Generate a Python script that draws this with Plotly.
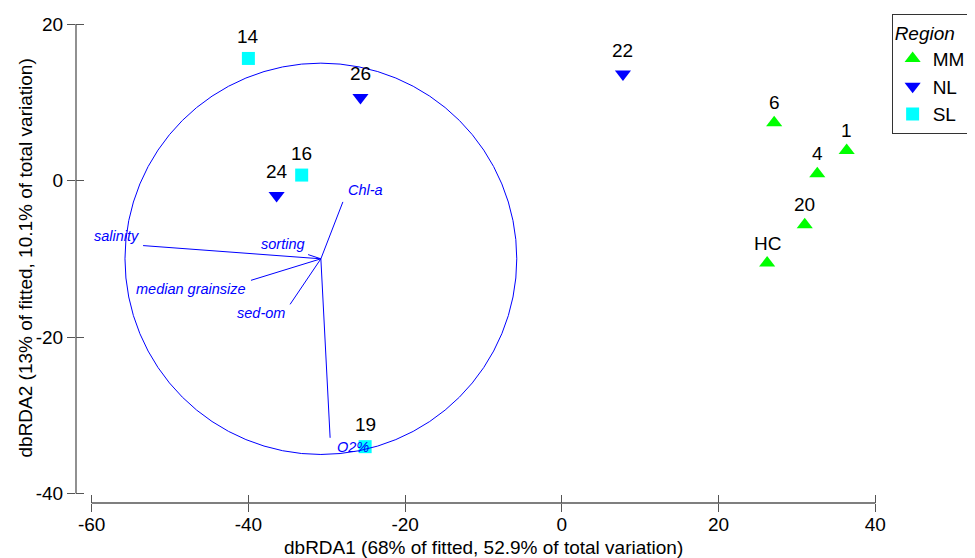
import plotly.graph_objects as go

# site scores on dbRDA1 / dbRDA2
site_labels = ["14", "26", "16", "24", "19", "22", "6", "1", "4", "20", "HC"]
site_region = ["SL", "NL", "SL", "NL", "SL", "NL", "MM", "MM", "MM", "MM", "MM"]
site_x = [-40.0, -25.7, -33.2, -36.4, -25.1, 7.8, 27.1, 36.35, 32.6, 31.0, 26.2]
site_y = [15.6, 10.6, 0.7, -1.9, -34.0, 13.6, 7.4, 3.85, 0.86, -5.66, -10.55]

regions = ["MM", "NL", "SL"]

# predictor vectors (end points), drawn from the circle centre
vector_names = ["salinity", "sorting", "Chl-a", "median grainsize", "sed-om", "O2%"]
vector_x = [-53.44, -32.38, -27.94, -39.67, -34.68, -29.57]
vector_y = [-8.31, -9.46, -2.73, -12.75, -15.82, -32.87]

circle_cx = -30.75
circle_cy = -10.0
circle_r = 25.0

x_ticks = [-60, -40, -20, 0, 20, 40]
y_ticks = [-40, -20, 0, 20]

x_title = "dbRDA1 (68% of fitted, 52.9% of total variation)"
y_title = "dbRDA2 (13% of fitted, 10.1% of total variation)"

FONT = "Arial, Liberation Sans, sans-serif"
AXCOL = "#555555"
BLUE = "#0000ff"

style = {
    "MM": dict(symbol="triangle-up", color="#00ff00", size=14, lab_shift=20),
    "NL": dict(symbol="triangle-down", color="#0000ff", size=14, lab_shift=24),
    "SL": dict(symbol="square", color="#00ffff", size=13, lab_shift=22),
}

# where each vector label sits relative to its arrow tip
vec_lab = {
    "salinity": dict(xanchor="right", xshift=-2, yshift=10),
    "sorting": dict(xanchor="right", xshift=-1, yshift=11),
    "Chl-a": dict(xanchor="left", xshift=3, yshift=12),
    "median grainsize": dict(xanchor="right", xshift=-3, yshift=-9),
    "sed-om": dict(xanchor="right", xshift=-3, yshift=-9),
    "O2%": dict(xanchor="left", xshift=5, yshift=-9),
}

fig = go.Figure()

# vectors
vx, vy = [], []
for ex, ey in zip(vector_x, vector_y):
    vx += [circle_cx, ex, None]
    vy += [circle_cy, ey, None]
fig.add_trace(go.Scatter(x=vx, y=vy, mode="lines", line=dict(color=BLUE, width=1),
                         showlegend=False, hoverinfo="skip"))

for reg in regions:
    idx = [i for i, r in enumerate(site_region) if r == reg]
    s = style[reg]
    fig.add_trace(go.Scatter(
        x=[site_x[i] for i in idx], y=[site_y[i] for i in idx],
        mode="markers", name=reg,
        marker=dict(symbol=s["symbol"], color=s["color"], size=s["size"], line=dict(width=0)),
        text=[site_labels[i] for i in idx],
    ))

# dummy trace so the overlay axes (inside ticks) get drawn
fig.add_trace(go.Scatter(x=[None], y=[None], xaxis="x2", yaxis="y2", showlegend=False))

for lab, reg, x, y in zip(site_labels, site_region, site_x, site_y):
    fig.add_annotation(x=x, y=y, text=lab, showarrow=False, yshift=style[reg]["lab_shift"],
                       font=dict(family=FONT, size=19, color="black"))

for name, ex, ey in zip(vector_names, vector_x, vector_y):
    fig.add_annotation(x=ex, y=ey, text="<i>" + name + "</i>", showarrow=False,
                       yanchor="middle", font=dict(family=FONT, size=14.5, color=BLUE),
                       **vec_lab[name])

fig.add_shape(type="circle", xref="x", yref="y",
              x0=circle_cx - circle_r, x1=circle_cx + circle_r,
              y0=circle_cy - circle_r, y1=circle_cy + circle_r,
              line=dict(color=BLUE, width=1))

# detached axis lines
fig.add_shape(type="line", xref="x", yref="paper", x0=x_ticks[0], x1=x_ticks[-1], y0=0, y1=0,
              line=dict(color=AXCOL, width=1.3))
fig.add_shape(type="line", xref="paper", yref="y", x0=0, x1=0, y0=y_ticks[0], y1=y_ticks[-1],
              line=dict(color=AXCOL, width=1.3))

# axis titles
fig.add_annotation(xref="paper", yref="paper", x=0.5, y=0, yshift=-44, text=x_title,
                   showarrow=False, yanchor="middle", font=dict(family=FONT, size=19, color="black"))
fig.add_annotation(xref="paper", yref="paper", x=0, y=0.5, xshift=-51, text=y_title,
                   textangle=-90, showarrow=False, xanchor="center",
                   font=dict(family=FONT, size=19, color="black"))

xr = [-62.0, 41.88]
yr = [-41.2, 21.28]
ax_common = dict(showgrid=False, zeroline=False, showline=False, ticklen=8,
                 tickwidth=1, tickcolor=AXCOL, automargin=False)
# page body has an 8px margin, so the figure is sized/offset to fill the 975x558 view
fig.update_layout(
    width=967, height=550,
    margin=dict(l=68, r=85, t=6, b=55, autoexpand=False),
    plot_bgcolor="white", paper_bgcolor="white",
    font=dict(family=FONT, size=19, color="black"),
    xaxis=dict(range=xr, ticks="outside", tickvals=x_ticks, ticklabelstandoff=-4,
               ticktext=[str(v) for v in x_ticks], tickfont=dict(size=19), **ax_common),
    yaxis=dict(range=yr, ticks="outside", tickvals=y_ticks,
               ticktext=[str(v) for v in y_ticks], tickfont=dict(size=19), **ax_common),
    xaxis2=dict(range=xr, ticks="inside", tickvals=x_ticks, showticklabels=False,
                overlaying="x", anchor="y2", **ax_common),
    yaxis2=dict(range=yr, ticks="inside", tickvals=y_ticks, showticklabels=False,
                overlaying="y", anchor="x2", **ax_common),
    legend=dict(x=1.002, y=1, xanchor="left", yanchor="top",
                bordercolor="#333333", borderwidth=1, bgcolor="white",
                title=dict(text="<i>Region</i>", font=dict(size=19)),
                font=dict(size=19), itemwidth=30, tracegroupgap=0),
    hovermode="closest",
)

fig.write_html("out.html")
